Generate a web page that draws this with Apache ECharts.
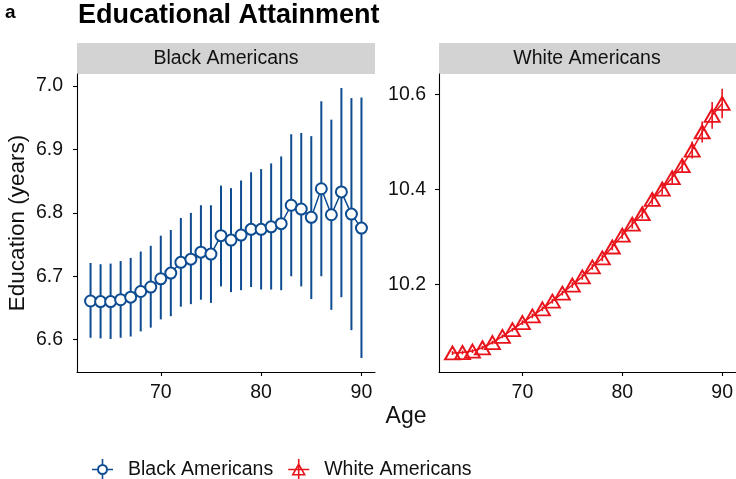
<!DOCTYPE html>
<html>
<head>
<meta charset="utf-8">
<script src="https://cdn.jsdelivr.net/npm/echarts@6/dist/echarts.min.js"></script>
<style>
  html, body { margin: 0; padding: 0; background: #fff; }
  #chart { width: 736px; height: 479px; }
</style>
</head>
<body>
<div id="chart"></div>
<script>
// age 63..90, mean education with 95% CI
const ages = [63, 64, 65, 66, 67, 68, 69, 70, 71, 72, 73, 74, 75, 76, 77, 78, 79, 80, 81, 82, 83, 84, 85, 86, 87, 88, 89, 90];

const blackMean = [6.661, 6.660, 6.660, 6.663, 6.667, 6.676, 6.683, 6.696, 6.705, 6.722, 6.727, 6.738, 6.735, 6.764,
    6.757, 6.765, 6.774, 6.774, 6.778, 6.783, 6.812, 6.806, 6.793, 6.838, 6.797, 6.833, 6.798, 6.776];
const blackLow = [6.603, 6.602, 6.601, 6.603, 6.605, 6.613, 6.619, 6.632, 6.637, 6.652, 6.656, 6.663, 6.658, 6.684,
    6.675, 6.678, 6.683, 6.679, 6.679, 6.678, 6.700, 6.684, 6.664, 6.700, 6.647, 6.667, 6.615, 6.571];
const blackHigh = [6.721, 6.719, 6.720, 6.724, 6.729, 6.739, 6.748, 6.764, 6.773, 6.792, 6.800, 6.812, 6.812, 6.843,
    6.839, 6.851, 6.864, 6.869, 6.878, 6.889, 6.924, 6.926, 6.921, 6.976, 6.947, 6.997, 6.981, 6.982];

const whiteMean = [10.056, 10.057, 10.060, 10.067, 10.078, 10.091, 10.105, 10.120, 10.134, 10.149, 10.165, 10.182, 10.199, 10.216,
    10.237, 10.256, 10.279, 10.304, 10.327, 10.349, 10.379, 10.401, 10.425, 10.450, 10.483, 10.521, 10.556, 10.581];
const whiteLow = [10.052, 10.053, 10.056, 10.063, 10.074, 10.087, 10.101, 10.115, 10.129, 10.144, 10.160, 10.177, 10.193, 10.210,
    10.231, 10.249, 10.272, 10.296, 10.318, 10.339, 10.368, 10.389, 10.412, 10.435, 10.465, 10.499, 10.528, 10.550];
const whiteHigh = [10.060, 10.061, 10.064, 10.071, 10.082, 10.095, 10.109, 10.125, 10.139, 10.154, 10.170, 10.187, 10.205, 10.222,
    10.243, 10.263, 10.286, 10.312, 10.336, 10.359, 10.390, 10.413, 10.438, 10.465, 10.501, 10.543, 10.584, 10.612];

const xTicks = [70, 80, 90];
const blackTicks = [6.6, 6.7, 6.8, 6.9, 7.0];
const whiteTicks = [10.2, 10.4, 10.6];

const BLUE = '#0e4c92';
const RED = '#e8141c';
const FONT = 'Liberation Sans';

// legend keys: line + errorbar + point, like the ggplot keys
const blueKey = 'path://M0,9.7L5.2,9.7L5.2,11.3L0,11.3Z M15.8,9.7L21,9.7L21,11.3L15.8,11.3Z ' +
    'M9.7,0L11.3,0L11.3,5.2L9.7,5.2Z M9.7,15.8L11.3,15.8L11.3,21L9.7,21Z ' +
    'M10.5,5A5.5,5.5 0 1,1 10.49,5Z M10.5,7A3.5,3.5 0 1,0 10.51,7Z';
const redKey = 'path://M0,9.7L21,9.7L21,11.3L0,11.3Z M9.7,0L11.3,0L11.3,21L9.7,21Z ' +
    'M10.5,3.5L17.8,16.5L3.2,16.5Z M10.5,6.8L5.9,14.9L15.1,14.9Z';

function pairs(ys) {
    return ages.map((a, i) => [a, ys[i]]);
}
function bars(lo, hi) {
    return ages.map((a, i) => [a, lo[i], hi[i]]);
}
function errorBar(color, width) {
    return function (params, api) {
        const p1 = api.coord([api.value(0), api.value(1)]);
        const p2 = api.coord([api.value(0), api.value(2)]);
        return {
            type: 'line',
            shape: { x1: p1[0], y1: p1[1], x2: p2[0], y2: p2[1] },
            style: { stroke: color, lineWidth: width }
        };
    };
}

const axisLine = { show: true, lineStyle: { color: '#000', width: 1.1 } };
const axisTick = { show: true, length: 4, lineStyle: { color: '#000', width: 1.1 } };
const tickLabel = { color: '#111', fontSize: 19.5, fontFamily: FONT };

const chart = echarts.init(document.getElementById('chart'));

const option = {
    animation: false,
    backgroundColor: '#fff',
    title: [
        { text: 'a', left: 5, top: 3, padding: 0, textStyle: { fontSize: 19, fontWeight: 'bold', color: '#000', fontFamily: FONT } },
        { text: 'Educational Attainment', left: 78, top: 2, padding: 0, textStyle: { fontSize: 27, fontWeight: 'bold', color: '#000', fontFamily: FONT } }
    ],
    legend: {
        left: 92,
        top: 459,
        padding: 0,
        itemWidth: 21,
        itemHeight: 21,
        itemGap: 15,
        selectedMode: false,
        textStyle: { fontSize: 19.5, color: '#111', fontFamily: FONT, padding: [0, 0, 0, 10] },
        data: [
            { name: 'Black Americans', icon: blueKey, itemStyle: { color: BLUE, borderWidth: 0 } },
            { name: 'White Americans', icon: redKey, itemStyle: { color: RED, borderWidth: 0 } }
        ]
    },
    graphic: [
        { type: 'rect', left: 77, top: 43, shape: { width: 298, height: 31 }, style: { fill: '#d3d3d3' }, silent: true },
        { type: 'rect', left: 439, top: 43, shape: { width: 297, height: 31 }, style: { fill: '#d3d3d3' }, silent: true },
        { type: 'text', x: 226, y: 59, style: { text: 'Black Americans', fill: '#111', font: '19.5px "Liberation Sans"', align: 'center', verticalAlign: 'middle' } },
        { type: 'text', x: 587, y: 59, style: { text: 'White Americans', fill: '#111', font: '19.5px "Liberation Sans"', align: 'center', verticalAlign: 'middle' } },
        { type: 'text', x: 406, y: 417, style: { text: 'Age', fill: '#111', font: '23px "Liberation Sans"', align: 'center', verticalAlign: 'middle' } }
    ],
    grid: [
        { left: 77, top: 74, width: 298, height: 298 },
        { left: 439, top: 74, width: 297, height: 298 }
    ],
    xAxis: [0, 1].map(i => ({
        type: 'value',
        gridIndex: i,
        min: 61.65,
        max: 91.35,
        splitLine: { show: false },
        axisLine: axisLine,
        axisTick: Object.assign({ customValues: xTicks }, axisTick),
        axisLabel: Object.assign({ customValues: xTicks, margin: 11 }, tickLabel)
    })),
    yAxis: [
        {
            type: 'value',
            gridIndex: 0,
            min: 6.549,
            max: 7.019,
            name: 'Education (years)',
            nameLocation: 'middle',
            nameGap: 48,
            nameTextStyle: { fontSize: 22.5, color: '#111', fontFamily: FONT },
            splitLine: { show: false },
            axisLine: axisLine,
            axisTick: Object.assign({ customValues: blackTicks }, axisTick),
            axisLabel: Object.assign({ customValues: blackTicks, margin: 14, formatter: v => v.toFixed(1) }, tickLabel)
        },
        {
            type: 'value',
            gridIndex: 1,
            min: 10.016,
            max: 10.643,
            splitLine: { show: false },
            axisLine: axisLine,
            axisTick: Object.assign({ customValues: whiteTicks }, axisTick),
            axisLabel: Object.assign({ customValues: whiteTicks, margin: 13, formatter: v => v.toFixed(1) }, tickLabel)
        }
    ],
    series: [
        {
            name: 'Black Americans CI',
            type: 'custom',
            xAxisIndex: 0,
            yAxisIndex: 0,
            renderItem: errorBar(BLUE, 2),
            data: bars(blackLow, blackHigh),
            z: 1
        },
        {
            name: 'Black Americans',
            type: 'line',
            xAxisIndex: 0,
            yAxisIndex: 0,
            data: pairs(blackMean),
            symbol: 'circle',
            symbolSize: 11,
            lineStyle: { color: BLUE, width: 1.5 },
            itemStyle: { color: '#fff', borderColor: BLUE, borderWidth: 2 },
            z: 2
        },
        {
            name: 'White Americans CI',
            type: 'custom',
            xAxisIndex: 1,
            yAxisIndex: 1,
            renderItem: errorBar(RED, 1.6),
            data: bars(whiteLow, whiteHigh),
            z: 1
        },
        {
            name: 'White Americans',
            type: 'line',
            xAxisIndex: 1,
            yAxisIndex: 1,
            data: pairs(whiteMean),
            symbol: 'triangle',
            symbolSize: [15, 13],
            lineStyle: { color: RED, width: 1.5 },
            itemStyle: { color: 'rgba(255,255,255,0)', borderColor: RED, borderWidth: 1.9 },
            z: 2
        }
    ]
};

chart.setOption(option);
</script>
</body>
</html>
